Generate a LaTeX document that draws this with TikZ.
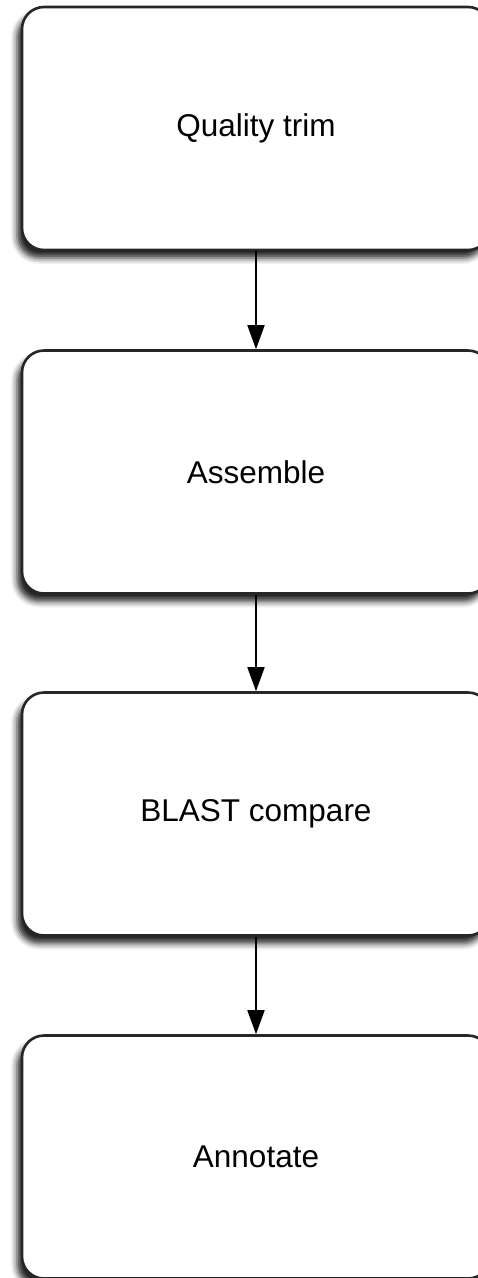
\documentclass[tikz,border=0pt]{standalone}
\usepackage{fontspec}
\setmainfont{Liberation Sans}
\usetikzlibrary{shadows.blur,arrows.meta}
\begin{document}
\begin{tikzpicture}[x=1pt,y=1pt,
  stepbox/.style={draw=black!85, line width=2.6pt, fill=white, rounded corners=22pt,
    minimum width=468pt, minimum height=243pt, inner sep=0pt,
    font=\fontsize{31.5}{36}\selectfont,
    blur shadow={shadow xshift=-5pt, shadow yshift=-8pt, shadow blur radius=6pt, shadow opacity=85}},
  flow/.style={line width=1.8pt, -{Triangle[length=24pt,width=17pt]}}]
\useasboundingbox (0,0) rectangle (477,-1278);
\node[stepbox] (q) at (256,-128.5) {Quality trim};
\node[stepbox] (a) at (256,-472) {Assemble};
\node[stepbox] (b) at (256,-814) {BLAST compare};
\node[stepbox] (n) at (256,-1157) {Annotate};
\draw[flow] (q.south) -- (a.north);
\draw[flow] (a.south) -- (b.north);
\draw[flow] (b.south) -- (n.north);
\end{tikzpicture}
\end{document}
